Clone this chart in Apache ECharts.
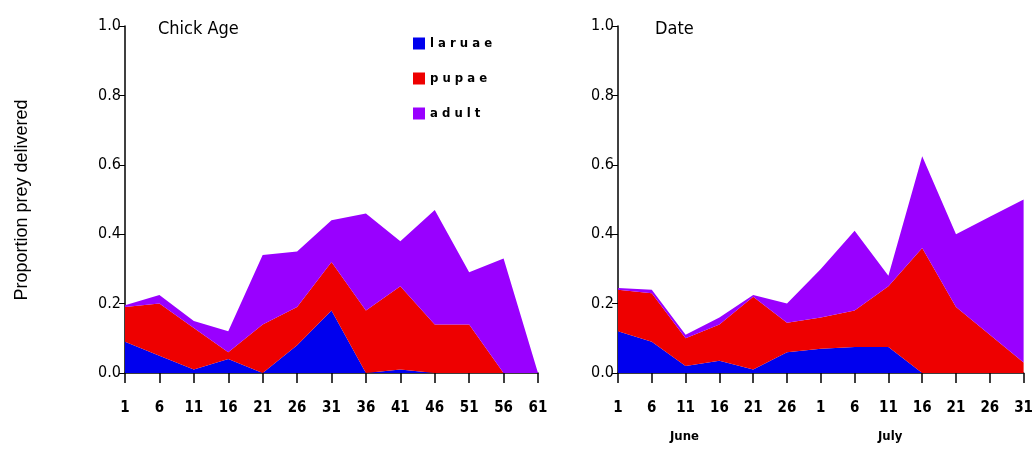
<!DOCTYPE html><html><head><meta charset="utf-8"><script src="https://cdn.jsdelivr.net/npm/echarts@6/dist/echarts.min.js"></script>
<style>body{margin:0;background:#fff}#c{width:1036px;height:450px}</style></head><body><div id="c"></div><script>
const ageCats=['1','6','11','16','21','26','31','36','41','46','51','56','61'];
const dateCats=['1','6','11','16','21','26','1','6','11','16','21','26','31'];
const yTicks=['0.0','0.2','0.4','0.6','0.8','1.0'];
const ageLarvae=[0.09,0.05,0.01,0.04,0,0.08,0.18,0,0.01,0,0,0,0];
const agePupae=[0.10,0.15,0.12,0.02,0.14,0.11,0.14,0.18,0.24,0.14,0.14,0,0];
const ageAdult=[0.005,0.025,0.02,0.06,0.20,0.16,0.12,0.28,0.13,0.33,0.15,0.33,0];
const dateLarvae=[0.12,0.09,0.02,0.035,0.01,0.06,0.07,0.075,0.075,0,0,0,0];
const datePupae=[0.12,0.14,0.08,0.105,0.21,0.085,0.09,0.105,0.175,0.36,0.19,0.11,0.03];
const dateAdult=[0.005,0.01,0.01,0.02,0.005,0.055,0.14,0.23,0.03,0.265,0.21,0.34,0.47];
const F='"DejaVu Sans Condensed", "DejaVu Sans", sans-serif';
const colors={larvae:'#0000ee',pupae:'#ee0000',adult:'#9900ff'};
function xa(i,cats){return {type:'category',gridIndex:i,data:cats,boundaryGap:false,axisLine:{lineStyle:{color:'#000',width:1.5}},axisTick:{alignWithLabel:true,length:10,lineStyle:{color:'#000',width:1.5}},axisLabel:{color:'#000',fontFamily:F,fontSize:15,fontWeight:'bold',margin:28}};}
function ya(i){return {type:'value',gridIndex:i,min:0,max:1,interval:0.2,splitLine:{show:false},axisLine:{show:true,lineStyle:{color:'#000',width:1.5}},axisTick:{show:true,length:6,lineStyle:{color:'#000'}},axisLabel:{color:'#000',fontFamily:F,fontSize:16,margin:4,formatter:v=>yTicks[Math.round(v*5)]}};}
function s(name,data,i){return {name:name,type:'line',xAxisIndex:i,yAxisIndex:i,stack:'s'+i,data:data,symbol:'none',lineStyle:{width:0},areaStyle:{color:colors[name],opacity:1},itemStyle:{color:colors[name]}};}
const chart=echarts.init(document.getElementById('c'));
chart.setOption({
animation:false,
grid:[{left:125,right:498,top:26,bottom:77},{left:618,right:5,top:26,bottom:77}],
xAxis:[xa(0,ageCats),xa(1,dateCats)],
yAxis:[ya(0),ya(1)],
legend:{orient:'vertical',left:408,top:32,itemWidth:12,itemHeight:12,itemGap:22,icon:'rect',data:['larvae','pupae','adult'],formatter:n=>({larvae:'l a r u a e',pupae:'p u p a e',adult:'a d u l t'})[n],textStyle:{fontFamily:F,fontSize:13,fontWeight:'bold',color:'#000'}},
graphic:[
{type:'text',left:158,top:20,style:{text:'Chick Age',font:'18px "DejaVu Sans Condensed"',fill:'#000'}},
{type:'text',left:655,top:20,style:{text:'Date',font:'18px "DejaVu Sans Condensed"',fill:'#000'}},
{type:'text',left:670,top:430,style:{text:'June',font:'bold 13px "DejaVu Sans Condensed"',fill:'#000'}},
{type:'text',left:878,top:430,style:{text:'July',font:'bold 13px "DejaVu Sans Condensed"',fill:'#000'}},
{type:'text',x:22,y:200,rotation:Math.PI/2,style:{text:'Proportion prey delivered',font:'18px "Liberation Sans"',fill:'#000',align:'center',verticalAlign:'middle'}}
],
series:[s('larvae',ageLarvae,0),s('pupae',agePupae,0),s('adult',ageAdult,0),s('larvae',dateLarvae,1),s('pupae',datePupae,1),s('adult',dateAdult,1)]
});
</script></body></html>
